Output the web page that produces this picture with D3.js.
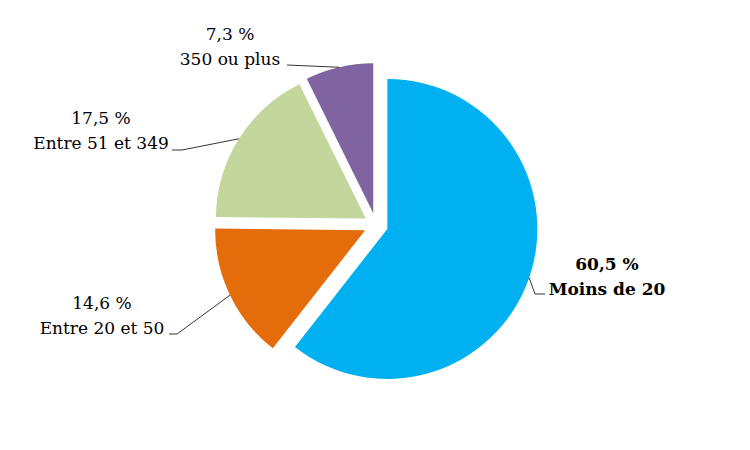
<!DOCTYPE html>
<html>
<head>
    <title>Pie</title>
    <script src="https://d3js.org/d3.v7.min.js"></script>
    <style type="text/css">
        body { margin: 0; background: #ffffff; }
        svg { background: #ffffff; }
        .leader { fill: none; stroke: #000; stroke-width: 0.8; }
    </style>
</head>
<body>
<div id="chart"></div>
<script>
// data
var categories = ["Moins de 20", "Entre 20 et 50", "Entre 51 et 349", "350 ou plus"]
var shares = [60.5, 14.6, 17.5, 7.3]
var colors = ["#00B0F0", "#E46C0A", "#C3D69B", "#8064A2"]

var width = 750, height = 450
var cx = 376, cy = 225, radius = 150, explode = 12

// label layout: text centre x, baseline of 2nd line, leader elbow + end
var labelLayout = [
    {x: 607, y: 295, bold: true,  elbow: [535, 294], end: [545, 294]},
    {x: 102, y: 334, bold: false, elbow: [177, 334], end: [169, 334]},
    {x: 101, y: 149, bold: false, elbow: [182, 150], end: [172, 150]},
    {x: 230, y: 65,  bold: false, elbow: null,       end: [287, 65]}
]

var svg = d3.select("#chart")
    .append("svg")
    .attr("width", width)
    .attr("height", height)

var pie = d3.pie().sort(null).value(function(d){ return d })
var arcs = pie(shares)

var arc = d3.arc().innerRadius(0).outerRadius(radius)
var rim = d3.arc().innerRadius(radius).outerRadius(radius)

var fmt = function(v){ return d3.format(".1f")(v).replace(".", ",") + " %" }

var offset = function(d){
    var a = (d.startAngle + d.endAngle) / 2
    return [cx + explode * Math.sin(a), cy - explode * Math.cos(a)]
}

var g = svg.append("g")

g.selectAll(".slice")
    .data(arcs)
    .enter().append("path")
    .attr("class", "slice")
    .attr("transform", function(d){ return "translate(" + offset(d) + ")" })
    .attr("d", arc)
    .attr("fill", function(d, i){ return colors[i] })

// leader lines + labels
arcs.forEach(function(d, i){
    var o = offset(d)
    var c = rim.centroid(d)
    var p0 = [o[0] + c[0], o[1] + c[1]]
    var L = labelLayout[i]
    var pts = [p0]
    if (L.elbow) pts.push(L.elbow)
    pts.push(L.end)
    svg.append("path")
        .attr("class", "leader")
        .attr("d", d3.line()(pts))

    var t = svg.append("text")
        .attr("font-family", "'DejaVu Serif', serif")
        .attr("font-size", 17)
        .attr("fill", "#000")
        .attr("text-anchor", "middle")
        .attr("font-weight", L.bold ? "bold" : "normal")
    t.append("tspan").attr("x", L.x).attr("y", L.y - 25).text(fmt(shares[i]))
    t.append("tspan").attr("x", L.x).attr("y", L.y).text(categories[i])
})
</script>
</body>
</html>
